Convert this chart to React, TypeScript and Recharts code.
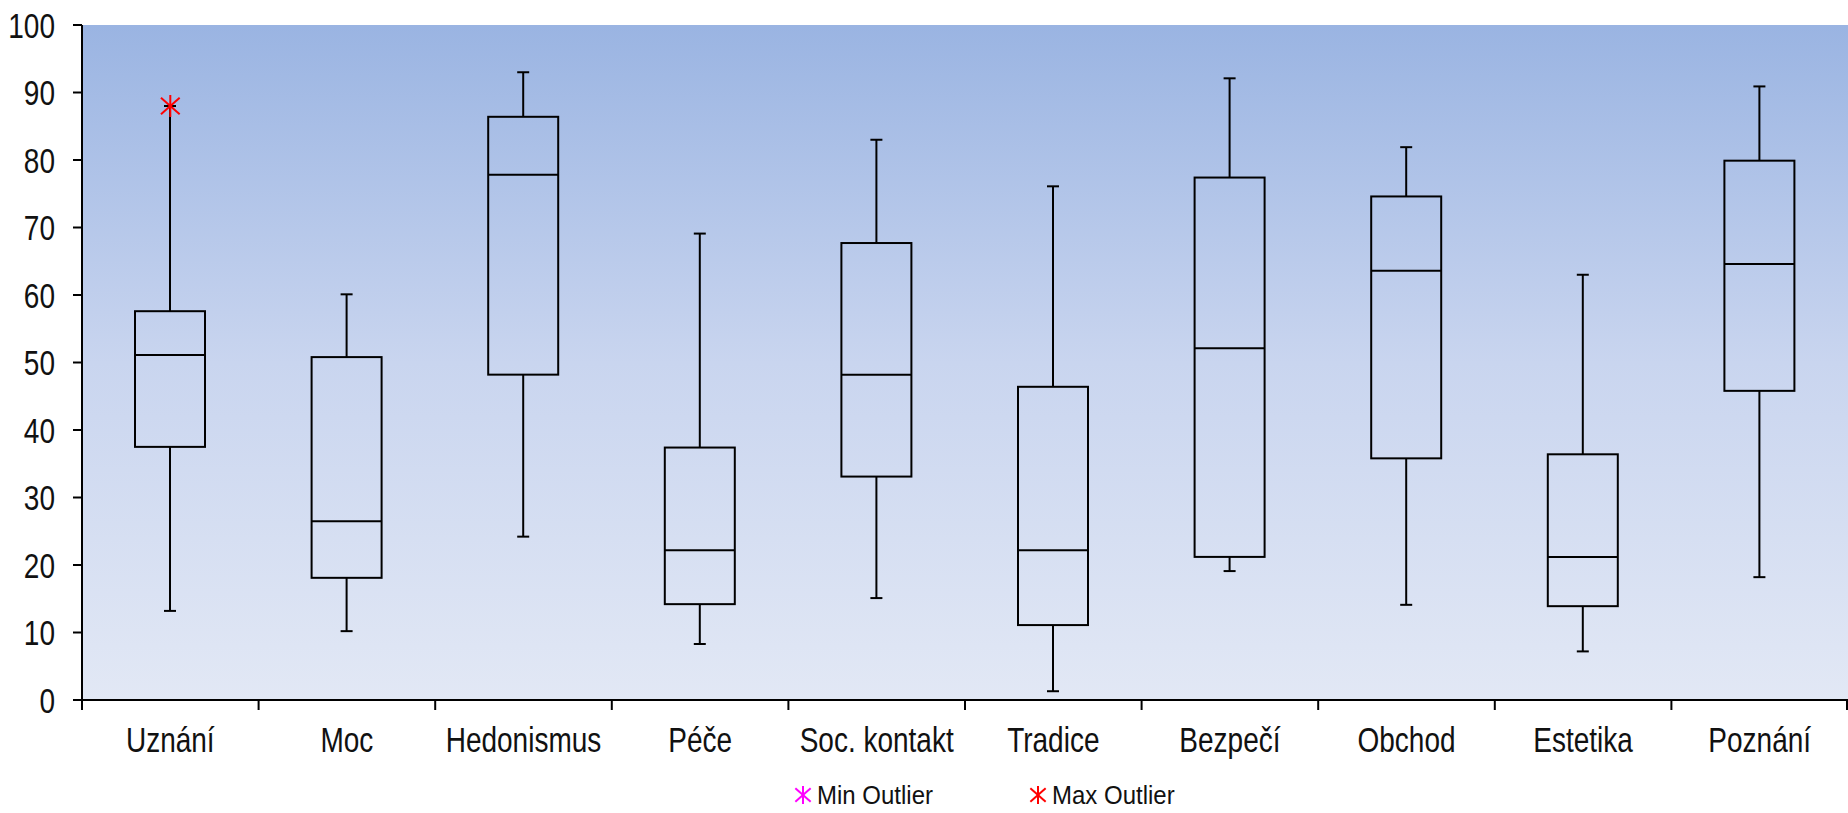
import { ComposedChart, Bar, Scatter, XAxis, YAxis, CartesianGrid } from 'recharts';

const categories = ['Uznání', 'Moc', 'Hedonismus', 'Péče', 'Soc. kontakt', 'Tradice', 'Bezpečí', 'Obchod', 'Estetika', 'Poznání'];
const mins = [13.2, 10.2, 24.2, 8.3, 15.1, 1.3, 19.1, 14.1, 7.2, 18.2];
const q1s = [37.5, 18.1, 48.2, 14.2, 33.1, 11.1, 21.2, 35.8, 13.9, 45.8];
const medians = [51.1, 26.5, 77.8, 22.2, 48.2, 22.2, 52.1, 63.6, 21.2, 64.6];
const q3s = [57.6, 50.8, 86.4, 37.4, 67.7, 46.4, 77.4, 74.6, 36.4, 79.9];
const maxs = [88, 60.1, 93, 69.1, 83, 76.1, 92.1, 81.9, 63, 90.9];
const maxOutliers: (number | null)[] = [88, null, null, null, null, null, null, null, null, null];
const yTicks = [0, 10, 20, 30, 40, 50, 60, 70, 80, 90, 100];

const data = categories.map((name, i) => ({
  name,
  min: mins[i],
  q1: q1s[i],
  median: medians[i],
  q3: q3s[i],
  max: maxs[i],
  range: [mins[i], maxs[i]],
  outlier: maxOutliers[i],
}));

const FONT = '"Liberation Sans", Arial, sans-serif';

// box + whiskers drawn inside the min..max range bar
function BoxShape(props: any) {
  const { x, y, width, height, payload } = props;
  const top = Math.min(y, y + height);
  const h = Math.abs(height);
  const span = payload.max - payload.min;
  const toY = (v: number) => top + ((payload.max - v) / span) * h;
  const cx = x + width / 2;
  const cap = 6;
  const yMax = toY(payload.max);
  const yQ3 = toY(payload.q3);
  const yMed = toY(payload.median);
  const yQ1 = toY(payload.q1);
  const yMin = toY(payload.min);
  return (
    <g stroke="#000" strokeWidth={2} fill="none">
      <line x1={cx} y1={yMax} x2={cx} y2={yQ3} />
      <line x1={cx - cap} y1={yMax} x2={cx + cap} y2={yMax} />
      <line x1={cx} y1={yQ1} x2={cx} y2={yMin} />
      <line x1={cx - cap} y1={yMin} x2={cx + cap} y2={yMin} />
      <rect x={x} y={yQ3} width={width} height={yQ1 - yQ3} />
      <line x1={x} y1={yMed} x2={x + width} y2={yMed} />
    </g>
  );
}

function Asterisk({ cx, cy, color, r }: { cx: number; cy: number; color: string; r: number }) {
  const dx = r * 0.85;
  const dy = r * 0.75;
  return (
    <g stroke={color} strokeWidth={2}>
      <line x1={cx} y1={cy - r} x2={cx} y2={cy + r} />
      <line x1={cx - dx} y1={cy - dy} x2={cx + dx} y2={cy + dy} />
      <line x1={cx - dx} y1={cy + dy} x2={cx + dx} y2={cy - dy} />
    </g>
  );
}

function OutlierShape(props: any) {
  if (props.payload?.outlier == null || !Number.isFinite(props.cy)) return <g />;
  return <Asterisk cx={props.cx} cy={props.cy} color="#ff0000" r={11} />;
}

function YTick(props: any) {
  const { x, y, payload } = props;
  return (
    <g transform={`translate(${x},${y}) scale(1,1.25)`}>
      <text x={0} y={0} dy="0.36em" textAnchor="end" fontSize={28} fontFamily={FONT} fill="#111">
        {payload.value}
      </text>
    </g>
  );
}

// category label at band centre, tick marks on band edges
function XTick(props: any) {
  const { x, y, payload, index, visibleTicksCount } = props;
  const half = payload.offset || 0;
  const isLast = index === visibleTicksCount - 1;
  return (
    <g>
      <line x1={x - half} y1={y} x2={x - half} y2={y + 10} stroke="#000" strokeWidth={2} />
      {isLast && <line x1={x + half - 1} y1={y} x2={x + half - 1} y2={y + 10} stroke="#000" strokeWidth={2} />}
      <g transform={`translate(${x},${y + 39}) scale(1,1.28)`}>
        <text x={0} y={0} dy="0.36em" textAnchor="middle" fontSize={28} fontFamily={FONT} fill="#111">
          {payload.value}
        </text>
      </g>
    </g>
  );
}

export default function App() {
  return (
    <div style={{ position: 'relative', width: 1848, height: 813 }}>
      <style>{`body{margin:0;background:#fff}`}</style>
      <ComposedChart
        width={1848}
        height={813}
        data={data}
        margin={{ top: 25, right: 0, bottom: 0, left: 0 }}
      >
        <defs>
          <linearGradient id="plotBg" x1="0" y1="0" x2="0" y2="1">
            <stop offset="0%" stopColor="#9ab4e2" />
            <stop offset="50%" stopColor="#c9d5ef" />
            <stop offset="100%" stopColor="#e2e8f5" />
          </linearGradient>
        </defs>
        <CartesianGrid horizontal={false} vertical={false} fill="url(#plotBg)" />
        <XAxis
          dataKey="name"
          type="category"
          height={113}
          axisLine={{ stroke: '#000', strokeWidth: 2 }}
          tickLine={false}
          tickSize={0}
          tickMargin={0}
          interval={0}
          tick={<XTick />}
        />
        <YAxis
          type="number"
          domain={[0, 100]}
          ticks={yTicks}
          width={82}
          tickSize={9}
          tickMargin={18}
          axisLine={{ stroke: '#000', strokeWidth: 2 }}
          tickLine={{ stroke: '#000', strokeWidth: 2 }}
          tick={<YTick />}
          interval={0}
        />
        <Bar dataKey="range" barSize={70} shape={<BoxShape />} isAnimationActive={false} />
        <Scatter dataKey="outlier" shape={<OutlierShape />} isAnimationActive={false} />
      </ComposedChart>
      <svg width={1848} height={813} style={{ position: 'absolute', left: 0, top: 0, pointerEvents: 'none' }}>
        <Asterisk cx={803} cy={795} color="#ff00ff" r={9} />
        <g transform="translate(817,794) scale(1,1.1)">
          <text x={0} y={0} dy="0.36em" fontSize={24} fontFamily={FONT} fill="#111">Min Outlier</text>
        </g>
        <Asterisk cx={1038} cy={795} color="#ff0000" r={9} />
        <g transform="translate(1052,794) scale(1,1.1)">
          <text x={0} y={0} dy="0.36em" fontSize={24} fontFamily={FONT} fill="#111">Max Outlier</text>
        </g>
      </svg>
    </div>
  );
}
